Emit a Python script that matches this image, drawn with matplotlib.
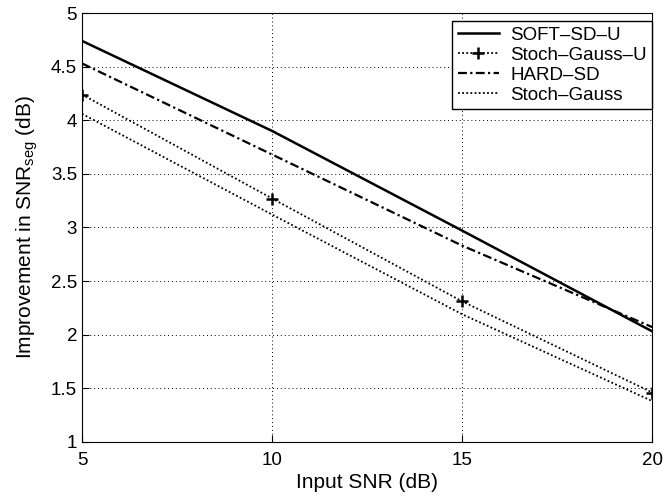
import numpy as np
import matplotlib.pyplot as plt

plt.rcParams['font.family'] = ['Liberation Sans', 'DejaVu Sans']
plt.rcParams['mathtext.default'] = 'regular'

snr_in = [5, 10, 15, 20]
soft_sd_u = [4.74, 3.90, 2.97, 2.03]
stoch_gauss_u = [4.24, 3.27, 2.31, 1.46]
hard_sd = [4.53, 3.68, 2.83, 2.07]
stoch_gauss = [4.06, 3.12, 2.19, 1.38]

fig = plt.figure(figsize=(6.64, 5.01), dpi=100)
ax = fig.add_axes([0.1235, 0.118, 0.859, 0.856])

ax.plot(snr_in, soft_sd_u, color='black', lw=1.8, ls='-', label='SOFT–SD–U')
ax.plot(snr_in, stoch_gauss_u, color='black', lw=1.3, ls=(0, (1, 1.3)),
        marker='+', ms=8, mew=1.8, label='Stoch–Gauss–U')
ax.plot(snr_in, hard_sd, color='black', lw=1.6, ls=(0, (4, 1.5, 1, 1.5)), label='HARD–SD')
ax.plot(snr_in, stoch_gauss, color='black', lw=1.3, ls=(0, (1, 1.3)), label='Stoch–Gauss')

ax.set_xlim(5, 20)
ax.set_ylim(1, 5)
ax.set_xticks([5, 10, 15, 20])
ax.set_yticks(np.arange(1, 5.01, 0.5))
ax.set_yticklabels(['1', '1.5', '2', '2.5', '3', '3.5', '4', '4.5', '5'])
ax.tick_params(direction='in', labelsize=13.5, length=5)
ax.tick_params(axis='x', pad=7)
ax.grid(True, color='black', ls=(0, (1, 3)), lw=0.7)

ax.set_xlabel('Input SNR (dB)', fontsize=15, labelpad=3)
ax.set_ylabel(r'Improvement in SNR$_{seg}$ (dB)', fontsize=15, labelpad=8)

leg = ax.legend(loc='upper right', bbox_to_anchor=(1.0, 0.981), fontsize=13.5,
                fancybox=False, framealpha=1, edgecolor='black', borderaxespad=0,
                handlelength=2.2, labelspacing=0.15, borderpad=0.3, handletextpad=0.6)
leg.get_frame().set_linewidth(1.0)

fig.savefig('out.png', dpi=100)
